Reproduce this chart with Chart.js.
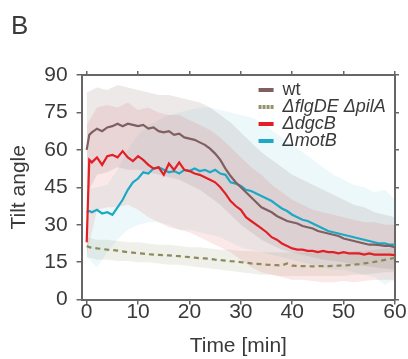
<!DOCTYPE html>
<html>
<head>
<meta charset="utf-8">
<script src="https://cdn.jsdelivr.net/npm/chart.js@4.4.1/dist/chart.umd.min.js"></script>
<style>
  html, body { margin: 0; padding: 0; background: #fff; }
  #wrap { width: 408px; height: 359px; }
</style>
</head>
<body>
<div id="wrap"><canvas id="chart"></canvas></div>
<script>
// time points of the mean curves [min]
const minutes = [0, 0.5, 1, 2, 3, 4, 5, 6, 7, 8,
  9, 10, 11, 12, 13, 14, 15, 16, 17, 18,
  19, 20, 21, 22, 23, 24, 25, 26, 27, 28,
  29, 30, 31, 32, 33, 34, 35, 36, 37, 38,
  39, 40, 41, 42, 43, 44, 45, 46, 47, 48,
  49, 50, 51, 52, 53, 54, 55, 56, 57, 58,
  59, 60];

const wtMean = [60, 66, 67, 68.5, 67.5, 69, 69.5, 70.5, 69.5, 70.5,
  70, 69.5, 70, 68.5, 69, 67.5, 67, 67.5, 66, 66.5,
  65, 64.5, 64, 63, 62, 60.5, 58.5, 56, 52.5, 49.5,
  47, 45, 43, 41, 39, 37, 36, 35, 33.5, 32.5,
  31.5, 31, 30.5, 29.5, 29, 28.5, 27.5, 27, 26.5, 26,
  25.5, 24.5, 24, 23.5, 23, 22.5, 22, 22, 21.8, 21.5,
  21.5, 21];

const flgMean = [21.5, 21, 20.8, 20.5, 20.3, 20, 19.9, 19.6, 19.3, 19,
  18.8, 18.6, 18.4, 18.2, 18, 17.9, 17.8, 17.7, 17.5, 17.4,
  17.2, 17, 16.8, 16.6, 16.5, 16.3, 16, 15.8, 15.6, 15.4,
  15.3, 15, 14.8, 14.5, 14.3, 14.2, 14, 13.9, 13.8, 13.7,
  14.5, 13.6, 13.5, 13.4, 13.4, 13.3, 13.4, 13.4, 13.4, 13.5,
  13.6, 13.7, 13.8, 14, 14.2, 14.5, 14.8, 15.1, 15.5, 15.9,
  16.3, 16.8];

const dgcMean = [23, 56, 55, 57, 54, 57.5, 58, 57, 59.5, 57,
  55.5, 57.5, 56, 54, 52.5, 53, 50, 54.5, 52, 55,
  52, 51.5, 50.5, 50, 49, 48, 47, 45, 42.5, 39.5,
  37.5, 36, 33, 31.5, 30, 28.5, 27, 25, 24, 22.5,
  21.5, 20.5, 20, 20, 19.5, 19.5, 19, 19.5, 19, 19,
  18.5, 19, 18.5, 18.5, 18.5, 18, 18.5, 18, 18, 18,
  18, 17.8];

const motMean = [35, 35.5, 35, 36, 34.5, 35, 34, 37, 40, 44,
  47, 48.5, 51, 50.5, 52.5, 53, 52, 51, 51.5, 50.5,
  52, 51.5, 52.5, 51.5, 52, 51, 52, 50.5, 50, 47,
  46.5, 45.5, 44, 43.5, 42.5, 41.5, 40.5, 39.5, 38, 36.5,
  35.5, 34, 33, 32, 31.5, 30.5, 29.5, 28.5, 27.5, 27,
  26.5, 26, 25.5, 25, 24.5, 24, 23.5, 23, 22.5, 22.5,
  22, 22];

// time points of the spread bands [min]
const bandMinutes = [0, 2, 4, 6, 8, 10, 12, 14, 16, 18, 20, 22, 24, 26, 28, 30,
  32, 34, 36, 38, 40, 42, 44, 46, 48, 50, 52, 54, 56, 58, 60];

const wtUpper = [83, 85, 84, 86, 85, 84, 83, 82, 82, 81, 80, 79, 77, 74, 71, 67,
  63, 59, 56, 53, 50, 48, 46, 44, 42, 40, 38, 37, 35, 34, 33];
const wtLower = [42, 50, 51, 53, 52, 52, 51, 50, 49, 48, 46, 44, 41, 38, 34, 30,
  27, 24, 22, 20, 19, 18, 17, 16, 15.5, 15, 14, 13.5, 13, 12.5, 12];

const flgUpper = [25, 24, 24, 23.5, 23, 23, 22.5, 22, 22, 21.5, 21, 21, 20.5, 20, 20, 19.5,
  19.5, 19, 19, 19, 19, 19, 19, 19, 19, 19, 19.5, 19.5, 20, 20.5, 21];
const flgLower = [17, 16, 16, 15.5, 15.5, 15, 15, 14.5, 14, 14, 13.5, 13, 12.5, 12, 11.5, 11,
  10.5, 10, 10, 9.5, 9.5, 9.5, 9.5, 9.5, 9.5, 9.5, 10, 10, 10.5, 11, 11];

const dgcUpper = [70, 77, 78, 77, 79, 76, 77, 75, 74, 74, 72, 70, 68, 65, 61, 57,
  53, 50, 46, 43, 40, 38, 36, 35, 34, 33, 32, 31, 31, 30, 30];
const dgcLower = [18, 36, 37, 37, 38, 36, 33, 31, 29, 28, 27, 25, 23, 21, 19, 16,
  13, 11, 10, 9, 8, 8, 7.5, 7, 7, 7.5, 7, 7.5, 8, 8, 8];

const motUpper = [44, 45, 46, 52, 60, 66, 70, 72, 74, 75, 76, 77, 77, 76, 75, 74,
  73, 71, 68, 65, 62, 59, 56, 53, 50, 48, 46, 45, 43, 44, 40];
const motLower = [17, 13, 19, 24, 28, 30, 31, 31, 30, 28, 28, 27, 26, 25, 23, 21,
  20, 19, 18, 17, 16, 15, 14, 13, 12, 12, 11, 10, 9, 6, 8];

const xTicks = [0, 10, 20, 30, 40, 50, 60];
const yTicks = [0, 15, 30, 45, 60, 75, 90];
const legendNames = ['wt', '\u0394flgDE \u0394pilA', '\u0394dgcB', '\u0394motB'];

const FONT = "'Liberation Sans', Arial, sans-serif";
const TEXT = '#3a3a3a';
const AXIS = '#666666';

function pts(xs, ys) {
  return ys.map((v, i) => ({ x: xs[i], y: v }));
}

function band(lower, upper, color) {
  return [
    { data: pts(bandMinutes, lower), borderWidth: 0, pointRadius: 0, fill: false, order: 5 },
    { data: pts(bandMinutes, upper), borderWidth: 0, pointRadius: 0, fill: '-1', backgroundColor: color, order: 5 }
  ];
}

function line(values, color, dash) {
  return {
    data: pts(minutes, values),
    borderColor: color,
    borderWidth: 2.2,
    borderDash: dash || [],
    pointRadius: 0,
    fill: false,
    order: 1
  };
}

const series = [
  { name: legendNames[0], color: '#7f5f60', italic: false, dotted: false },
  { name: legendNames[1], color: '#94936c', italic: true, dotted: true },
  { name: legendNames[2], color: '#e21f26', italic: true, dotted: false },
  { name: legendNames[3], color: '#1ca9c5', italic: true, dotted: false }
];

const datasets = [
  ...band(wtLower, wtUpper, 'rgba(128, 96, 98, 0.14)'),
  ...band(dgcLower, dgcUpper, 'rgba(215, 45, 45, 0.11)'),
  ...band(motLower, motUpper, 'rgba(60, 175, 210, 0.09)'),
  ...band(flgLower, flgUpper, 'rgba(140, 140, 95, 0.13)'),
  line(wtMean, series[0].color),
  line(flgMean, '#8c8a5e', [5, 4]),
  line(dgcMean, series[2].color),
  line(motMean, series[3].color)
];

const insideLegend = {
  id: 'insideLegend',
  afterDatasetsDraw(chart) {
    const ctx = chart.ctx;
    const x0 = chart.chartArea.left + 177;
    const y0 = chart.chartArea.top + 15;
    ctx.save();
    series.forEach((s, i) => {
      const y = y0 + i * 17;
      ctx.fillStyle = s.color;
      if (s.dotted) {
        for (let k = 0; k < 4; k++) ctx.fillRect(x0 + k * 4, y - 2, 3, 4);
      } else {
        ctx.fillRect(x0, y - 2, 15, 4);
      }
      ctx.fillStyle = TEXT;
      ctx.font = (s.italic ? 'italic ' : '') + '18px ' + FONT;
      ctx.textBaseline = 'middle';
      ctx.fillText(s.name, x0 + 24, y);
    });
    ctx.restore();
  },
  afterDraw(chart) {
    const ctx = chart.ctx;
    ctx.save();
    ctx.fillStyle = TEXT;
    ctx.font = '26px ' + FONT;
    ctx.textBaseline = 'alphabetic';
    ctx.fillText('B', 11, 34);
    ctx.restore();
  }
};

function fixTicks(list) {
  return function (scale) { scale.ticks = list.map(v => ({ value: v })); };
}

const tickFont = { family: FONT, size: 21 };

new Chart(document.getElementById('chart'), {
  type: 'line',
  data: { datasets: datasets },
  options: {
    responsive: true,
    maintainAspectRatio: false,
    animation: false,
    layout: { padding: { top: 71, right: 9, bottom: 0, left: 0 } },
    plugins: {
      legend: { display: false },
      tooltip: { enabled: false },
      title: { display: false }
    },
    scales: {
      x: {
        type: 'linear', position: 'bottom', min: -1, max: 60,
        afterBuildTicks: fixTicks(xTicks),
        ticks: { color: TEXT, font: tickFont, padding: -5, maxRotation: 0 },
        grid: { drawOnChartArea: false, tickLength: 5, color: AXIS, lineWidth: 1.5 },
        border: { color: AXIS, width: 2 },
        title: { display: true, text: 'Time [min]', color: TEXT, font: tickFont, padding: { top: 14, bottom: 0 } }
      },
      x2: {
        type: 'linear', position: 'top', min: -1, max: 60,
        afterBuildTicks: fixTicks(xTicks),
        ticks: { display: false },
        grid: { drawOnChartArea: false, tickLength: 4, color: AXIS, lineWidth: 1.5 },
        border: { color: AXIS, width: 2 }
      },
      y: {
        type: 'linear', position: 'left', min: 0, max: 90,
        afterBuildTicks: fixTicks(yTicks),
        ticks: { color: TEXT, font: tickFont, padding: 9 },
        grid: { drawOnChartArea: false, tickLength: 5, color: AXIS, lineWidth: 1.5 },
        border: { color: AXIS, width: 2 },
        title: { display: true, text: 'Tilt angle', color: TEXT, font: tickFont, padding: { top: 7, bottom: 3 } }
      },
      y2: {
        type: 'linear', position: 'right', min: 0, max: 90,
        afterBuildTicks: fixTicks(yTicks),
        ticks: { display: false },
        grid: { drawOnChartArea: false, tickLength: 4, color: AXIS, lineWidth: 1.5 },
        border: { color: AXIS, width: 2 }
      }
    }
  },
  plugins: [insideLegend]
});
</script>
</body>
</html>
